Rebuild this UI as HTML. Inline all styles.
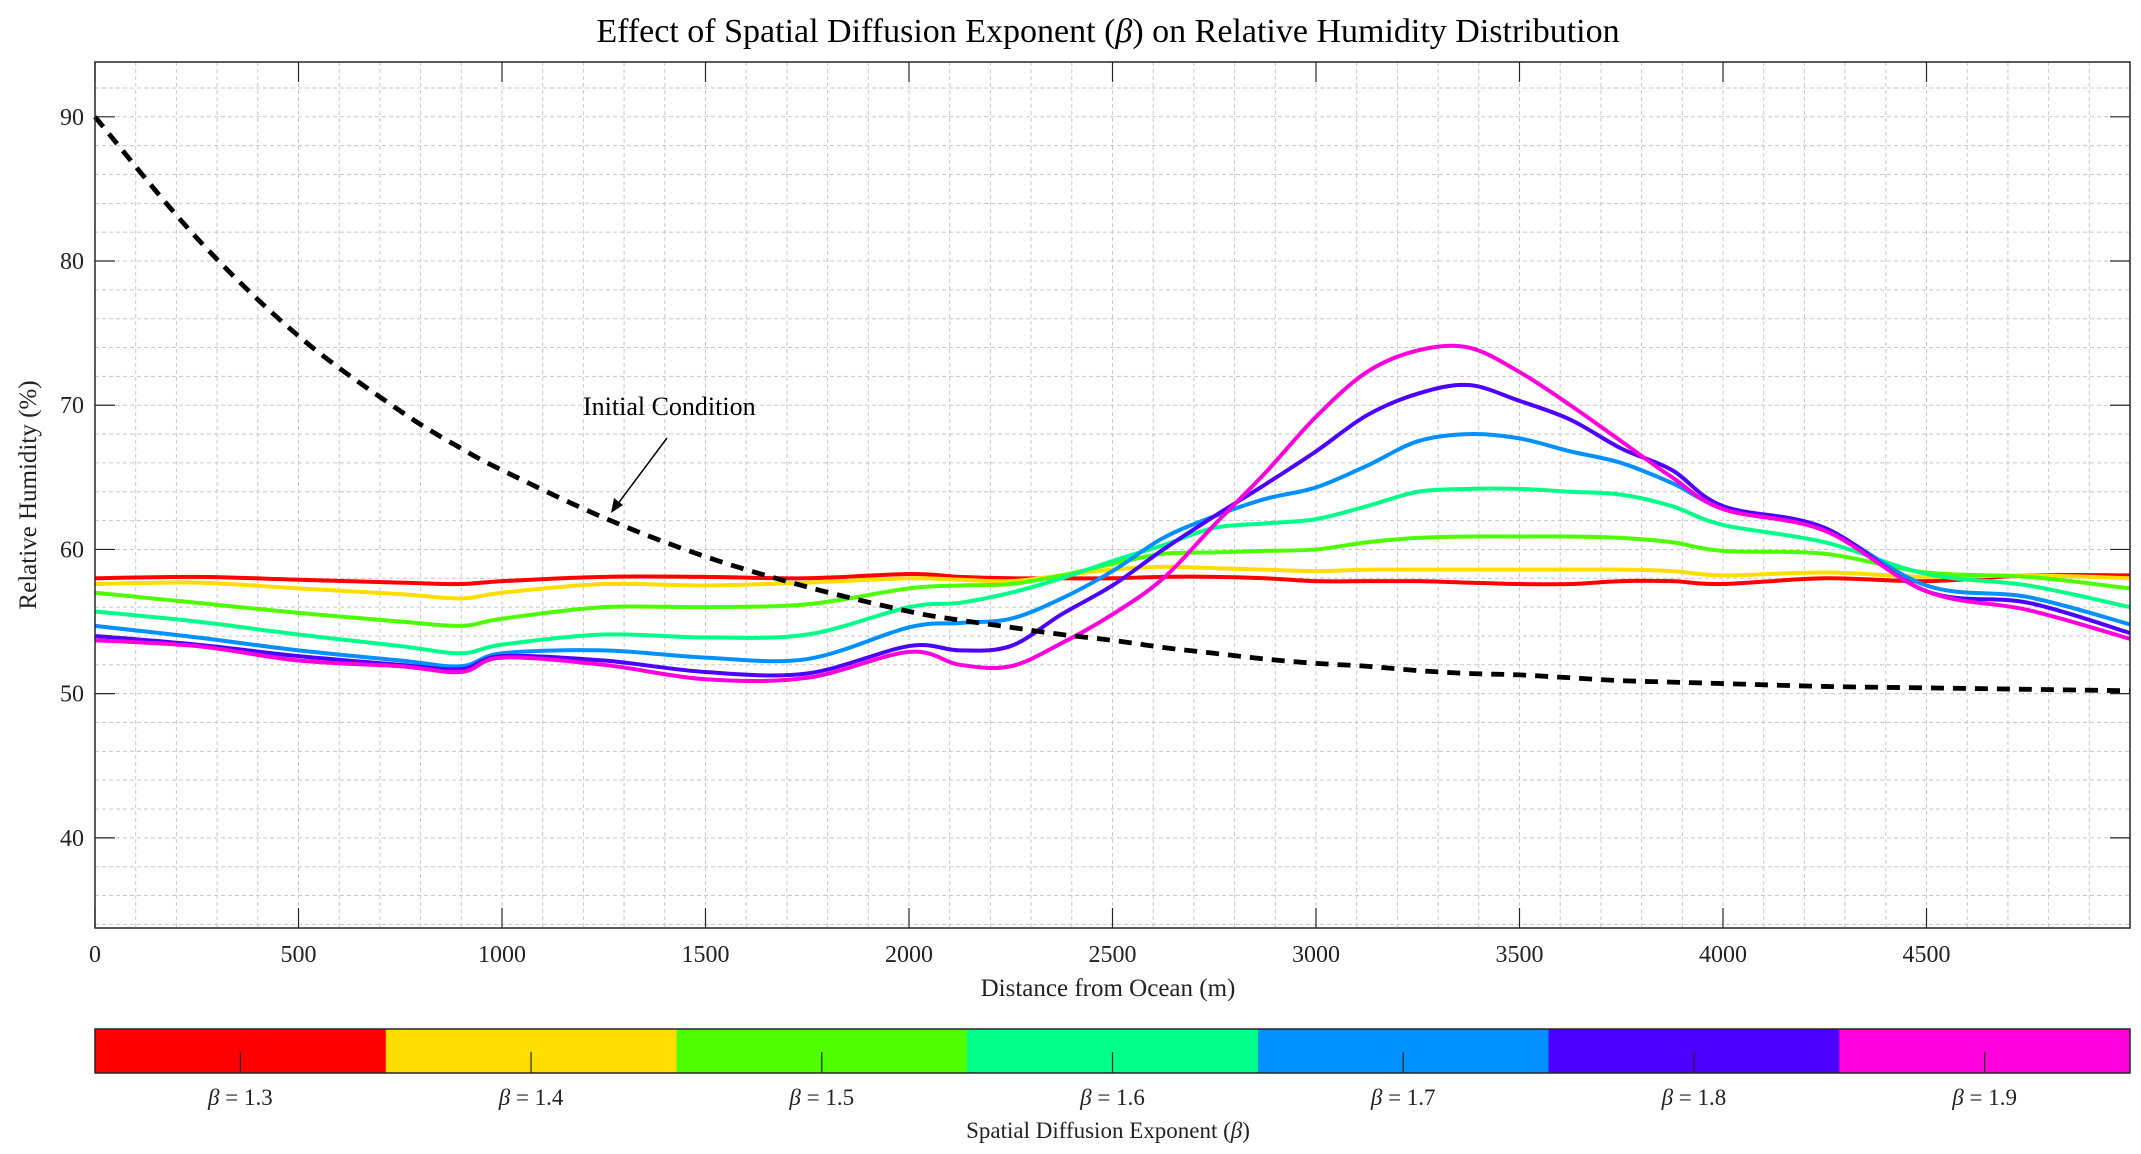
<!DOCTYPE html>
<html>
<head>
<meta charset="utf-8">
<style>
  html, body { margin: 0; padding: 0; background: #fff; }
  body { width: 2141px; height: 1154px; overflow: hidden; }
  svg { display: block; font-family: "Liberation Serif", "DejaVu Serif", serif; }
</style>
</head>
<body>
<svg id="chart" width="2141" height="1154" viewBox="0 0 2141 1154">
  <text x="1108" y="42" text-anchor="middle" font-size="34" fill="#000">Effect of Spatial Diffusion Exponent (<tspan font-style="italic">β</tspan>) on Relative Humidity Distribution</text>
  <g id="grid"></g>
  <g id="series"></g>
  <g id="axes"></g>
  <text x="1108" y="996" text-anchor="middle" font-size="25" fill="#222">Distance from Ocean (m)</text>
  <text x="36" y="495" text-anchor="middle" font-size="25" fill="#222" transform="rotate(-90 36 495)">Relative Humidity (%)</text>
  <g>
    <text x="583" y="415" font-size="26" fill="#000">Initial Condition</text>
    <line x1="667" y1="438" x2="614" y2="509" stroke="#000" stroke-width="1.5"/>
    <polygon points="611,513 614,498 623,505" fill="#000"/>
  </g>
  <g id="colorbar"></g>
  <text x="1108" y="1138" text-anchor="middle" font-size="23" fill="#222">Spatial Diffusion Exponent (<tspan font-style="italic">β</tspan>)</text>
</svg>
<script>
const distances = [0,250,500,750,900,1000,1250,1500,1750,2000,2125,2250,2375,2500,2625,2750,2875,3000,3125,3250,3375,3500,3625,3750,3875,4000,4250,4500,4750,5000];
const beta13 = [58.0,58.1,57.9,57.7,57.6,57.8,58.1,58.1,58.0,58.3,58.1,58.0,58.0,58.0,58.1,58.1,58.0,57.8,57.8,57.8,57.7,57.6,57.6,57.8,57.8,57.6,58.0,57.8,58.2,58.2];
const beta14 = [57.6,57.7,57.3,56.9,56.6,57.0,57.6,57.5,57.7,58.0,57.9,57.8,58.2,58.6,58.8,58.7,58.6,58.5,58.6,58.6,58.6,58.6,58.6,58.6,58.5,58.2,58.4,58.1,58.2,58.0];
const beta15 = [57.0,56.3,55.6,55.0,54.7,55.2,56.0,56.0,56.2,57.3,57.5,57.6,58.2,59.0,59.7,59.8,59.9,60.0,60.5,60.8,60.9,60.9,60.9,60.8,60.5,59.9,59.7,58.4,58.1,57.3];
const beta16 = [55.7,55.0,54.1,53.3,52.8,53.4,54.1,53.9,54.1,56.0,56.3,57.0,58.0,59.2,60.3,61.5,61.8,62.1,63.0,64.0,64.2,64.2,64.0,63.8,63.0,61.7,60.5,58.3,57.5,56.0];
const beta17 = [54.7,53.9,53.0,52.3,51.9,52.8,53.0,52.5,52.4,54.6,54.9,55.2,56.6,58.5,60.8,62.3,63.5,64.3,65.8,67.5,68.0,67.7,66.8,66.0,64.6,62.9,61.4,57.5,56.7,54.8];
const beta18 = [54.0,53.4,52.6,52.0,51.7,52.6,52.3,51.5,51.4,53.3,53.0,53.3,55.5,57.5,60.0,62.3,64.5,66.8,69.3,70.8,71.4,70.3,69.0,67.0,65.5,63.0,61.5,57.1,56.3,54.2];
const beta19 = [53.7,53.3,52.3,51.9,51.5,52.5,52.0,51.0,51.1,52.9,52.0,51.9,53.5,55.5,58.0,61.7,65.3,69.2,72.3,73.8,74.0,72.3,70.0,67.5,65.0,62.8,61.3,57.1,55.8,53.8];
const initialCondition = [90.0,81.6,74.8,69.6,67.0,65.5,62.2,59.5,57.4,55.7,55.1,54.6,54.1,53.7,53.2,52.8,52.4,52.1,51.9,51.6,51.4,51.3,51.1,50.9,50.8,50.7,50.5,50.4,50.3,50.2];
const betaLabels = ["1.3","1.4","1.5","1.6","1.7","1.8","1.9"];
const seriesColors = ["#ff0000","#ffdd00","#4dff00","#00ff88","#0090ff","#4d00ff","#ff00dd"];
const xTicks = [0,500,1000,1500,2000,2500,3000,3500,4000,4500];
const yTicks = [40,50,60,70,80,90];

const NS = "http://www.w3.org/2000/svg";
const L = 95, R = 2130, T = 62, B = 928;
const xMin = 0, xMax = 5000, yMin = 33.75, yMax = 93.8;
const sx = v => L + (v - xMin) / (xMax - xMin) * (R - L);
const sy = v => B - (v - yMin) / (yMax - yMin) * (B - T);
function mk(tag, attrs, parent) {
  const e = document.createElementNS(NS, tag);
  for (const k in attrs) e.setAttribute(k, attrs[k]);
  parent.appendChild(e);
  return e;
}
const grid = document.getElementById('grid');
for (let v = 100; v < 5000; v += 100) {
  const g = mk('line', {x1: sx(v), x2: sx(v), y1: T, y2: B, stroke: '#c8c8c8', 'stroke-width': 1, 'stroke-dasharray': '4,3'}, grid);
  
  
}
for (let v = 34; v < 94; v += 2) {
  const g = mk('line', {x1: L, x2: R, y1: sy(v), y2: sy(v), stroke: '#c8c8c8', 'stroke-width': 1, 'stroke-dasharray': '4,3'}, grid);
  
  
}
function smoothPath(xs, ys) {
  const p = xs.map((x, i) => [sx(x), sy(ys[i])]);
  let d = `M${p[0][0]},${p[0][1]}`;
  for (let i = 0; i < p.length - 1; i++) {
    const p0 = p[Math.max(0, i - 1)], p1 = p[i], p2 = p[i + 1], p3 = p[Math.min(p.length - 1, i + 2)];
    const c1x = p1[0] + (p2[0] - p0[0]) / 6, c1y = p1[1] + (p2[1] - p0[1]) / 6;
    const c2x = p2[0] - (p3[0] - p1[0]) / 6, c2y = p2[1] - (p3[1] - p1[1]) / 6;
    d += ` C${c1x},${c1y} ${c2x},${c2y} ${p2[0]},${p2[1]}`;
  }
  return d;
}
const seriesG = document.getElementById('series');
const allSeries = [beta13, beta14, beta15, beta16, beta17, beta18, beta19];
allSeries.forEach((vals, i) => {
  const p = mk('path', {d: smoothPath(distances, vals), fill: 'none', stroke: seriesColors[i], 'stroke-width': 4, 'stroke-linejoin': 'round'}, seriesG);
  
  
});
const ic = mk('path', {d: smoothPath(distances, initialCondition), fill: 'none', stroke: '#000', 'stroke-width': 4.8, 'stroke-dasharray': '13,9'}, seriesG);



const axes = document.getElementById('axes');
const box = mk('rect', {x: L, y: T, width: R - L, height: B - T, fill: 'none', stroke: '#262626', 'stroke-width': 1.5}, axes);


xTicks.forEach(v => {
  mk('line', {x1: sx(v), x2: sx(v), y1: B, y2: B - 20, stroke: '#262626', 'stroke-width': 1.2}, axes);
  mk('line', {x1: sx(v), x2: sx(v), y1: T, y2: T + 20, stroke: '#262626', 'stroke-width': 1.2}, axes);
  const t = mk('text', {x: sx(v), y: 962, 'text-anchor': 'middle', 'font-size': 24, fill: '#222'}, axes);
  t.textContent = v;
  
  
});
yTicks.forEach(v => {
  mk('line', {x1: L, x2: L + 20, y1: sy(v), y2: sy(v), stroke: '#262626', 'stroke-width': 1.2}, axes);
  mk('line', {x1: R, x2: R - 20, y1: sy(v), y2: sy(v), stroke: '#262626', 'stroke-width': 1.2}, axes);
  const t = mk('text', {x: 84, y: sy(v) + 8, 'text-anchor': 'end', 'font-size': 24, fill: '#222'}, axes);
  t.textContent = v;
  
  
});

const cb = document.getElementById('colorbar');
const cT = 1029, cB = 1073, n = betaLabels.length, w = (R - L) / n;
betaLabels.forEach((lab, i) => {
  const r = mk('rect', {x: L + i * w, y: cT, width: w + 0.5, height: cB - cT, fill: seriesColors[i]}, cb);
  
  
  const cx = L + (i + 0.5) * w;
  mk('line', {x1: cx, x2: cx, y1: cB, y2: cB - 21, stroke: '#262626', 'stroke-width': 1.2}, cb);
  const t = mk('text', {x: cx, y: 1105, 'text-anchor': 'middle', 'font-size': 23, fill: '#222'}, cb);
  t.innerHTML = '<tspan font-style="italic">β</tspan> = ' + lab;
  
  
});
const cbf = mk('rect', {x: L, y: cT, width: R - L, height: cB - cT, fill: 'none', stroke: '#262626', 'stroke-width': 1.5}, cb);


</script>
</body>
</html>
